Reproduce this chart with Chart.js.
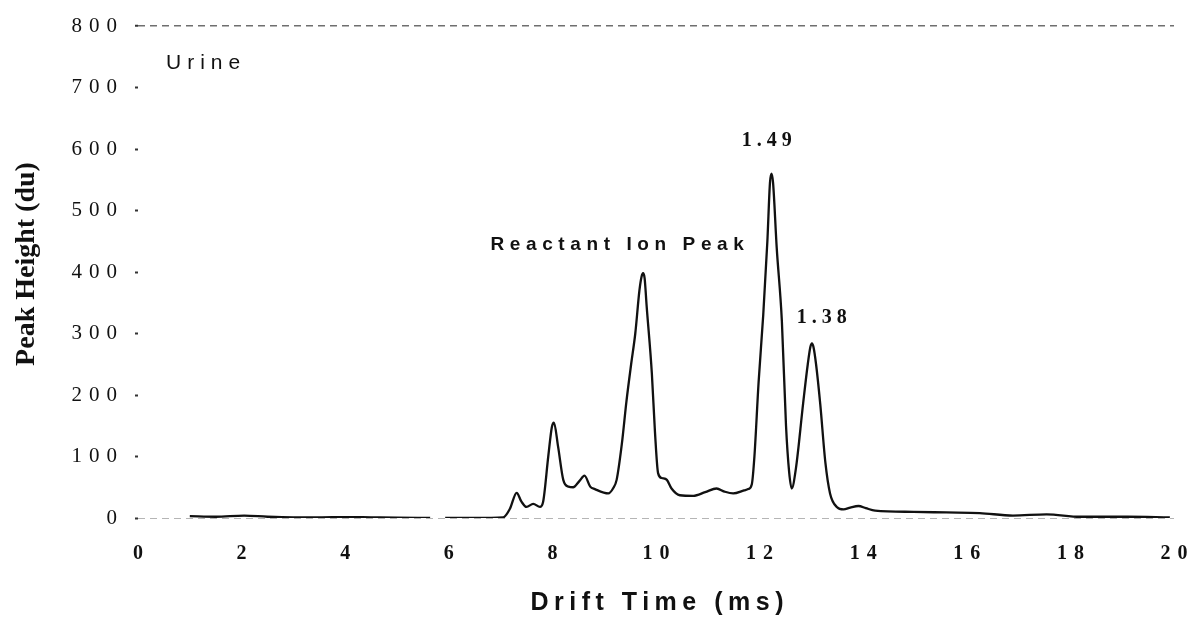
<!DOCTYPE html>
<html>
<head>
<meta charset="utf-8">
<title>Urine - Drift Time</title>
<script src="https://cdn.jsdelivr.net/npm/chart.js@4.4.1/dist/chart.umd.min.js"></script>
<style>
  html, body { margin: 0; padding: 0; background: #fff; }
  #wrap { width: 1193px; height: 618px; }
</style>
</head>
<body>
<div id="wrap"><canvas id="drift-chart"></canvas></div>
<script>
// spectrum trace, drift time (ms) vs peak height (du); null marks the break in the trace
const driftTime = [
  1.00, 1.50, 2.05, 2.50, 3.00, 3.50, 4.00, 4.50, 5.00, 5.64, 5.78, 5.93, 6.50,
  7.05, 7.18, 7.31, 7.40, 7.50, 7.63, 7.76, 7.82, 7.92, 7.99, 8.03, 8.11, 8.21,
  8.31, 8.40, 8.52, 8.62, 8.73, 8.82, 9.08, 9.17, 9.24, 9.34, 9.43, 9.52, 9.60,
  9.68, 9.72, 9.75, 9.78, 9.82, 9.92, 9.98, 10.04, 10.11, 10.21, 10.30, 10.46,
  10.72, 10.95, 11.17, 11.32, 11.49, 11.70, 11.78, 11.85, 11.90, 11.98, 12.07,
  12.15, 12.20, 12.23, 12.26, 12.33, 12.43, 12.51, 12.57, 12.62, 12.70, 12.84,
  12.93, 12.98, 13.01, 13.04, 13.09, 13.17, 13.27, 13.36, 13.49, 13.62, 13.75,
  13.91, 14.05, 14.23, 14.97, 15.60, 16.25, 16.89, 17.54, 18.19, 19.10, 19.92
];
const peakHeight = [
  3, 2, 4, 2, 1, 1, 1.5, 1, 0.5, 0, null, 0, 0,
  1, 15, 41, 27, 18, 23, 18, 26, 100, 148, 155, 116, 62,
  51, 50, 60, 69, 51, 47, 40, 48, 62, 120, 190, 250, 300,
  370, 392, 398, 390, 344, 235, 140, 73, 65, 62, 48, 37,
  36, 42, 48, 43, 40, 45, 47, 55, 100, 220, 330,
  450, 545, 560, 545, 440, 320, 150, 75, 48, 80, 186,
  250, 278, 284, 278, 250, 186, 90, 40, 18, 14, 17,
  19.5, 16, 12, 10, 9, 8, 4, 6, 2, 2, 1
];

const xTickValues = [0, 2, 4, 6, 8, 10, 12, 14, 16, 18, 20];
const yTickValues = [0, 100, 200, 300, 400, 500, 600, 700, 800];

const sampleName = "Urine";
const xTitle = "Drift Time (ms)";
const yTitle = "Peak Height (du)";
const noteTexts = ["Reactant Ion Peak", "1.49", "1.38"];

const TICK_SPACING = 7;

function spacedText(ctx, text, x, y, font, spacing, align) {
  ctx.save();
  ctx.font = font;
  ctx.letterSpacing = spacing + "px";
  ctx.fillStyle = "#111";
  ctx.textBaseline = "middle";
  ctx.textAlign = "left";
  const w = ctx.measureText(text).width - spacing;
  const left = align === "center" ? x - w / 2 : x;
  ctx.fillText(text, left, y);
  ctx.restore();
}

const textPlugin = {
  id: "textPlugin",
  beforeDraw(chart) {
    chart.ctx.letterSpacing = TICK_SPACING + "px";
  },
  afterDraw(chart) {
    const { ctx, scales } = chart;
    const px = (v) => scales.x.getPixelForValue(v);
    const py = (v) => scales.y.getPixelForValue(v);

    spacedText(ctx, sampleName, px(0.54), py(740), '21px "Liberation Sans"', 6, "left");
    spacedText(ctx, noteTexts[0], px(9.25), py(444), 'bold 19px "Liberation Sans"', 5.6, "center");
    spacedText(ctx, noteTexts[1], px(12.14), py(613), 'bold 20px "Liberation Serif"', 5, "center");
    spacedText(ctx, noteTexts[2], px(13.2), py(325), 'bold 20px "Liberation Serif"', 5, "center");

    // axis titles
    spacedText(ctx, xTitle, 657, 603, 'bold 25px "Liberation Sans"', 5.5, "center");

    ctx.save();
    ctx.letterSpacing = "0px";
    ctx.translate(27, 264);
    ctx.rotate(-Math.PI / 2);
    ctx.font = 'bold 28px "Liberation Serif"';
    ctx.fillStyle = "#111";
    ctx.textAlign = "center";
    ctx.textBaseline = "middle";
    ctx.fillText(yTitle, 0, 0);
    ctx.restore();

    ctx.letterSpacing = "0px";
  },
};

const points = driftTime.map((t, i) => ({ x: t, y: peakHeight[i] }));

const ctx = document.getElementById("drift-chart").getContext("2d");

const driftChart = new Chart(ctx, {
  type: "line",
  data: {
    datasets: [
      {
        label: sampleName,
        data: points,
        borderColor: "#111",
        borderWidth: 2.3,
        pointRadius: 0,
        fill: false,
        cubicInterpolationMode: "monotone",
        spanGaps: false,
      },
    ],
  },
  options: {
    responsive: true,
    maintainAspectRatio: false,
    animation: false,
    devicePixelRatio: 1,
    layout: {
      padding: { top: 26, right: 19, left: 0, bottom: 0 },
    },
    plugins: {
      legend: { display: false },
      tooltip: { enabled: false },
    },
    scales: {
      x: {
        type: "linear",
        min: 0,
        max: 20,
        afterBuildTicks: (scale) => {
          scale.ticks = xTickValues.map((v) => ({ value: v }));
        },
        afterFit: (scale) => {
          scale.height = 100;
          // keep the edge labels from pulling the plot area inwards
          scale.paddingLeft = 0;
          scale.paddingRight = 0;
        },
        grid: { display: false, drawTicks: false },
        border: { display: false },
        ticks: {
          color: "#111",
          padding: 24,
          labelOffset: 3.5,
          maxRotation: 0,
          font: { family: "Liberation Serif", size: 20, weight: "bold" },
        },
      },
      y: {
        type: "linear",
        min: 0,
        max: 800,
        afterBuildTicks: (scale) => {
          scale.ticks = yTickValues.map((v) => ({ value: v }));
        },
        afterFit: (scale) => {
          scale.width = 138;
        },
        grid: {
          drawOnChartArea: true,
          color: (c) => {
            if (c.tick && c.tick.value === 800) return "#6f6f6f";
            if (c.tick && c.tick.value === 0) return "#b5b5b5";
            return "rgba(0,0,0,0)";
          },
          lineWidth: (c) => (c.tick && c.tick.value === 800 ? 1.5 : 1),
          tickColor: "#333",
          tickLength: 3,
          tickWidth: 2,
        },
        border: { display: false, dash: [7, 5] },
        ticks: {
          color: "#111",
          padding: 11,
          font: { family: "Liberation Serif", size: 21 },
        },
      },
    },
  },
  plugins: [textPlugin],
});
</script>
</body>
</html>
